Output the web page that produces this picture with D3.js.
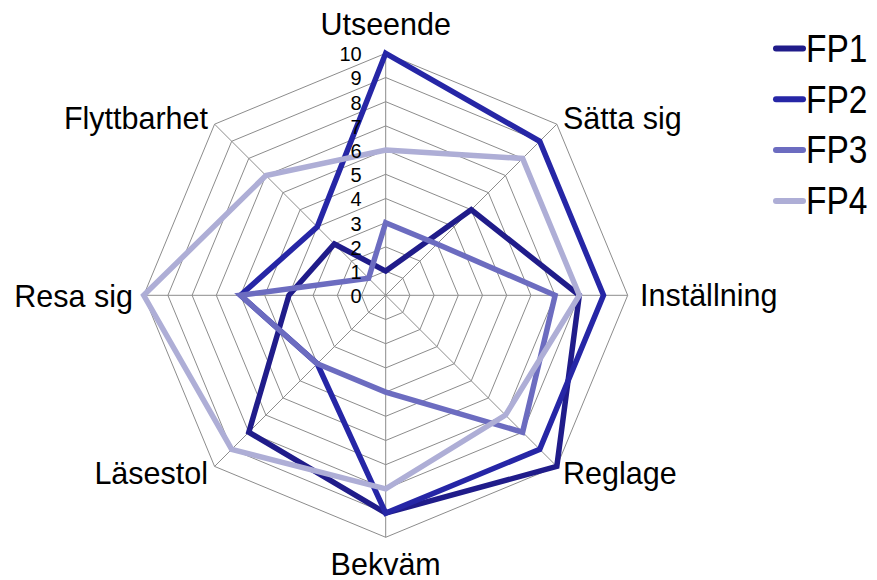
<!DOCTYPE html>
<html><head><meta charset="utf-8">
<script src="https://cdn.jsdelivr.net/npm/d3@7"></script>
<style>body{margin:0;background:#fff}svg{display:block}text{font-family:"Liberation Sans",Arial,sans-serif;fill:#000}</style>
</head><body>
<svg id="c" width="877" height="580"></svg>
<script>
const categories = ["Utseende","Sätta sig","Inställning","Reglage","Bekväm","Läsestol","Resa sig","Flyttbarhet"];
const seriesNames = ["FP1","FP2","FP3","FP4"];
const FP1 = [1,5,8,10,9,8,4,3];
const FP2 = [10,9,9,9,9,4,6,4];
const FP3 = [3,3,7,8,4,4,6,1];
const FP4 = [6,8,8,7,8,9,10,7];
const tickLabels = [0,1,2,3,4,5,6,7,8,9,10];
const colors = ["#201c8a","#2626a6","#6c6cc0","#aeaed6"];

const svg = d3.select("#c");
const cx = 385.7, cy = 295.3, R = 242;
const r = d3.scaleLinear().domain([0,10]).range([0,R]);
const ang = d3.scaleLinear().domain([0,categories.length]).range([0,2*Math.PI]);
const pt = (i,v)=>[cx + r(v)*Math.sin(ang(i)), cy - r(v)*Math.cos(ang(i))];

const g = svg.append("g");
// rings
tickLabels.slice(1).forEach(t=>{
  g.append("path")
   .attr("d", d3.line()(categories.map((c,i)=>pt(i,t))) + "Z")
   .attr("fill","none").attr("stroke","#8c8c8c").attr("stroke-width",1);
});
// spokes
categories.forEach((c,i)=>{
  const [x,y]=pt(i,10);
  g.append("line").attr("x1",cx).attr("y1",cy).attr("x2",x).attr("y2",y)
   .attr("stroke","#8c8c8c").attr("stroke-width",1);
});
// series
const data = [FP1,FP2,FP3,FP4];
data.forEach((vals,si)=>{
  svg.append("path")
    .attr("d", d3.line()(vals.map((v,i)=>pt(i,v))) + "Z")
    .attr("fill","none").attr("stroke",colors[si]).attr("stroke-width",5.5)
    .attr("stroke-linejoin","miter");
});
// tick labels (drawn over the series, as in the reference)
tickLabels.forEach(t=>{
  svg.append("text").attr("x",361.7).attr("y",cy - r(t) + 7.8)
   .attr("text-anchor","end").attr("font-size",20).text(t);
});
// category labels
const labelPos = [
  {x:385.7, y:35, a:"middle"},
  {x:563, y:129, a:"start"},
  {x:640, y:306, a:"start"},
  {x:563, y:484, a:"start"},
  {x:385.7, y:574.5, a:"middle"},
  {x:208, y:484, a:"end"},
  {x:133, y:307, a:"end"},
  {x:208, y:129, a:"end"}
];
categories.forEach((c,i)=>{
  svg.append("text").attr("x",labelPos[i].x).attr("y",labelPos[i].y)
    .attr("text-anchor",labelPos[i].a).attr("font-size",30.5).text(c);
});
// legend
const lg = svg.append("g");
seriesNames.forEach((s,i)=>{
  const yl = 48.5 + i*50.8;
  lg.append("line").attr("x1",776).attr("x2",803).attr("y1",yl).attr("y2",yl)
    .attr("stroke",colors[i]).attr("stroke-width",6).attr("stroke-linecap","round");
  lg.append("text").attr("transform",`translate(806,${61.7+i*50.8}) scale(0.86,1)`)
    .attr("font-size",39).text(s);
});
</script>
</body></html>
